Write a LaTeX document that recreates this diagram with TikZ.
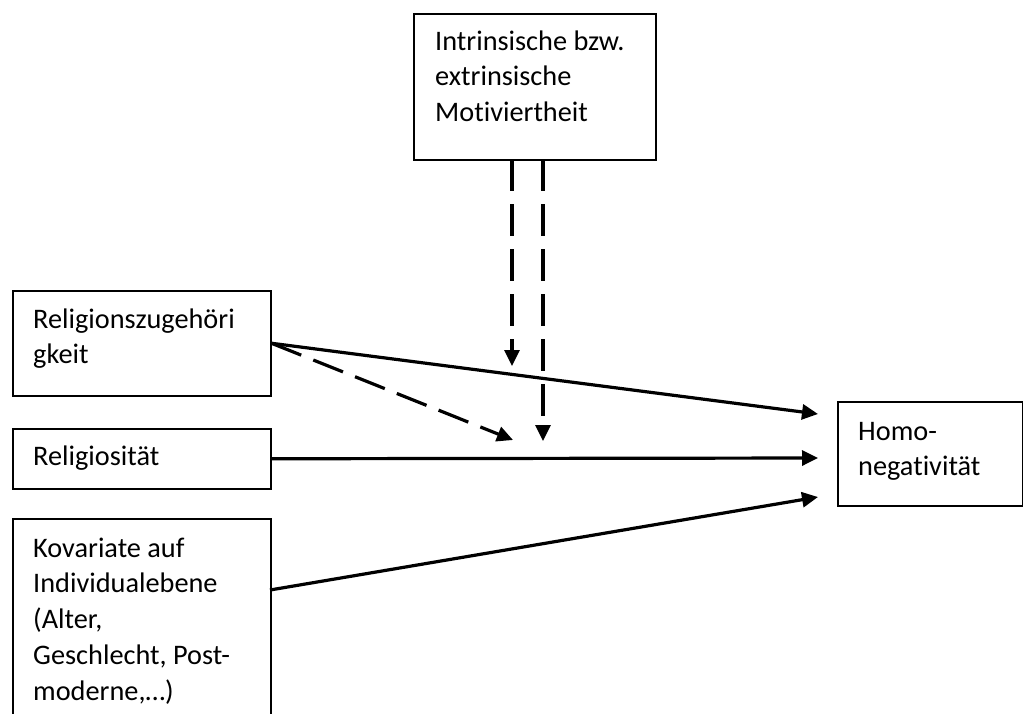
\documentclass[tikz,border=0pt]{standalone}
\usepackage{fontspec}
\setmainfont{Carlito}[Ligatures=NoCommon]
\usetikzlibrary{arrows.meta,calc}
\begin{document}
\begin{tikzpicture}[x=1pt,y=-1pt,
  box/.style={draw,line width=1.5pt,inner sep=0pt,anchor=north west},
  lbl/.style={anchor=base west,align=left,inner sep=0pt,font=\fontsize{28.3}{35.9}\selectfont},
  conn/.style={line width=3.2pt,-{Triangle[length=16pt,width=15pt]}},
  dashline/.style={dash pattern=on 32pt off 13pt}]
\useasboundingbox (0,0) rectangle (1023,713);
\clip (0,0) rectangle (1023,713);
% boxes
\node[box,minimum width=242pt,minimum height=146pt] (mot) at (413,13) {};
\node[box,minimum width=258pt,minimum height=105pt] (rz) at (12,290) {};
\node[box,minimum width=258pt,minimum height=60pt] (rel) at (12,428) {};
\node[box,minimum width=258pt,minimum height=220pt] (kov) at (12,518) {};
\node[box,minimum width=185pt,minimum height=104pt] (homo) at (837,401) {};
% texts (anchor = baseline of the last line)
\node[lbl] (motT) at (435,121.8) {Intrinsische bzw.\\extrinsische\\Motiviertheit};
\node[lbl] (rzT) at (33,363.9) {Religionszugehöri\\gkeit};
\node[lbl] (relT) at (33,465) {Religiosität};
\node[lbl] (kovT) at (33,700.6) {Kovariate auf\\Individualebene\\(Alter,\\Geschlecht, Post-\\moderne,…)};
\node[lbl] (homoT) at (858,475.9) {Homo-\\negativität};
% connector coordinates
\coordinate (h1) at (818,414);
\coordinate (h2) at (818,458);
\coordinate (h3) at (818,497);
\coordinate (kovE) at (270,590);
\coordinate (m1s) at (512,159);
\coordinate (m1e) at (512,366);
\coordinate (m2s) at (543,159);
\coordinate (m2e) at (543,441);
\coordinate (mid) at (513,440);
% connectors
\draw[conn] (rz.east) -- (h1);
\draw[conn] (rel.east) -- (h2);
\draw[conn] (kovE) -- (h3);
\draw[conn,dashline] (rz.east) -- (mid);
\draw[conn,dashline] (m1s) -- (m1e);
\draw[conn,dashline] (m2s) -- (m2e);
\end{tikzpicture}
\end{document}
